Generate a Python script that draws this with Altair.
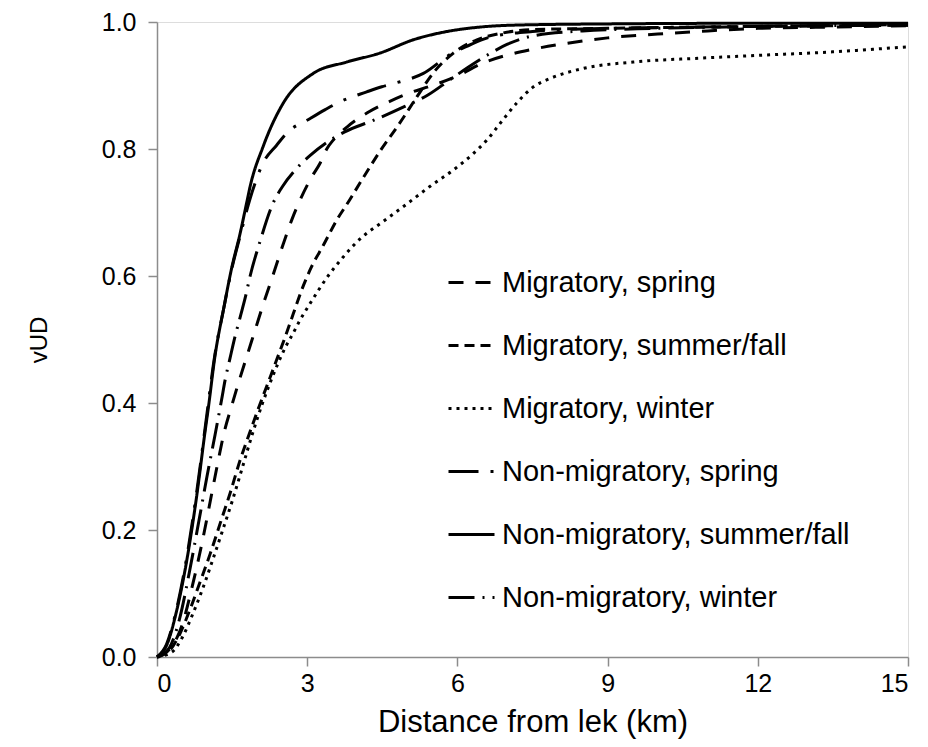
import altair as alt
import pandas as pd

# ---- data (distance km, vUD) ----
series_names = [
    "Migratory, spring",
    "Migratory, summer/fall",
    "Migratory, winter",
    "Non-migratory, spring",
    "Non-migratory, summer/fall",
    "Non-migratory, winter",
]

mig_spring_d = [0, 0.25, 0.5, 0.7, 0.9, 1.1, 1.25, 1.33, 1.49, 1.66, 1.82, 1.96, 2.12, 2.32, 2.52, 2.69, 2.86,
                3.09, 3.26, 3.39, 3.52, 3.8, 4.2, 4.65, 5.0, 5.5, 6.0, 6.5, 7.0, 7.5, 8.15, 9, 10, 11, 12, 13.5, 15]
mig_spring_v = [0, 0.012, 0.05, 0.11, 0.18, 0.26, 0.32, 0.35, 0.395, 0.44, 0.48, 0.515, 0.555, 0.602, 0.65, 0.688, 0.72,
                0.756, 0.778, 0.80, 0.814, 0.835, 0.857, 0.875, 0.887, 0.90, 0.915, 0.935, 0.948, 0.957, 0.966, 0.975,
                0.981, 0.986, 0.99, 0.992, 0.994]

mig_summer_d = [0, 0.26, 0.46, 0.66, 0.86, 1.06, 1.26, 1.46, 1.66, 1.86, 2.0, 2.19, 2.39, 2.56, 2.72, 2.89, 3.09,
                3.32, 3.59, 3.85, 4.05, 4.45, 4.85, 5.19, 5.52, 5.92, 6.39, 6.86, 7.5, 9, 12, 15]
mig_summer_v = [0, 0.011, 0.037, 0.075, 0.118, 0.162, 0.21, 0.258, 0.31, 0.355, 0.386, 0.426, 0.468, 0.504, 0.54,
                0.578, 0.615, 0.648, 0.688, 0.72, 0.746, 0.796, 0.841, 0.882, 0.92, 0.951, 0.972, 0.982, 0.988,
                0.99, 0.993, 0.995]

mig_winter_d = [0, 0.3, 0.5, 0.7, 0.9, 1.1, 1.3, 1.5, 1.7, 1.9, 2.1, 2.3, 2.56, 2.72, 2.86, 3.06, 3.39, 3.72, 4.05,
                4.52, 5.0, 5.45, 5.92, 6.32, 6.6, 6.85, 7.18, 7.52, 7.85, 8.52, 9.51, 10.84, 12.17, 13.5, 15]
mig_winter_v = [0, 0.008, 0.03, 0.065, 0.105, 0.15, 0.197, 0.245, 0.297, 0.35, 0.398, 0.44, 0.487, 0.51, 0.531,
                0.557, 0.597, 0.63, 0.658, 0.686, 0.714, 0.741, 0.767, 0.793, 0.815, 0.84, 0.872, 0.898, 0.911,
                0.927, 0.937, 0.943, 0.948, 0.953, 0.961]

nm_spring_d = [0, 0.19, 0.39, 0.59, 0.79, 0.96, 1.16, 1.33, 1.49, 1.66, 1.86, 2.12, 2.39, 2.59, 3.06, 3.36, 3.59,
               4.19, 4.49, 4.72, 5.32, 5.88, 6.2, 6.6, 7.5, 9, 12, 15]
nm_spring_v = [0, 0.02, 0.075, 0.155, 0.258, 0.36, 0.478, 0.548, 0.61, 0.663, 0.722, 0.778, 0.806, 0.825, 0.848,
               0.862, 0.872, 0.89, 0.898, 0.903, 0.919, 0.95, 0.962, 0.975, 0.985, 0.99, 0.993, 0.996]

nm_summer_d = [0, 0.19, 0.39, 0.59, 0.79, 0.96, 1.03, 1.16, 1.33, 1.49, 1.66, 1.79, 1.86, 2.12, 2.52, 3.12, 3.79,
               4.45, 5.12, 5.79, 6.45, 7.1, 9, 12, 15]
nm_summer_v = [0, 0.018, 0.072, 0.15, 0.252, 0.355, 0.395, 0.475, 0.548, 0.612, 0.667, 0.715, 0.741, 0.804, 0.872,
               0.919, 0.937, 0.951, 0.972, 0.985, 0.992, 0.995, 0.997, 0.998, 0.998]

nm_winter_d = [0, 0.25, 0.45, 0.65, 0.85, 1.0, 1.16, 1.29, 1.36, 1.46, 1.56, 1.66, 1.76, 1.86, 2.06, 2.32, 2.49,
               2.82, 3.06, 3.52, 3.75, 4.35, 4.95, 5.41, 5.85, 6.2, 6.6, 7.0, 7.5, 8.5, 10, 12, 15]
nm_winter_v = [0, 0.015, 0.06, 0.135, 0.22, 0.285, 0.35, 0.405, 0.436, 0.471, 0.505, 0.535, 0.565, 0.6, 0.655,
               0.715, 0.739, 0.772, 0.79, 0.817, 0.827, 0.846, 0.867, 0.885, 0.909, 0.928, 0.948, 0.965, 0.978,
               0.986, 0.99, 0.993, 0.995]

x_ticks = [0, 3, 6, 9, 12, 15]
y_ticks = [0.0, 0.2, 0.4, 0.6, 0.8, 1.0]

# ---- styles ----
dash_patterns = [[15, 12], [10, 6], [3, 5], [30, 12, 3, 12], [1, 0], [26, 8, 2, 8]]

series_data = [
    (mig_spring_d, mig_spring_v),
    (mig_summer_d, mig_summer_v),
    (mig_winter_d, mig_winter_v),
    (nm_spring_d, nm_spring_v),
    (nm_summer_d, nm_summer_v),
    (nm_winter_d, nm_winter_v),
]

rows = []
for name, (ds, vs) in zip(series_names, series_data):
    for d, v in zip(ds, vs):
        rows.append({"series": name, "distance": d, "vud": v})
df = pd.DataFrame(rows)

label_font = "Liberation Sans"

chart = alt.Chart(df).mark_line(
    color="black", strokeWidth=3, interpolate="monotone"
).encode(
    x=alt.X(
        "distance:Q",
        scale=alt.Scale(domain=[0, 15], nice=False, zero=True),
        axis=alt.Axis(
            values=x_ticks, format="d", title="Distance from lek (km)", grid=False,
            domainColor="#8c8c8c", tickColor="#8c8c8c", tickSize=9, domainWidth=1.5, tickWidth=1.5,
            labelFont=label_font, labelFontSize=25, labelColor="black", labelPadding=5,
            titleFont=label_font, titleFontSize=31, titleFontWeight="normal", titleColor="black",
            titlePadding=11,
        ),
    ),
    y=alt.Y(
        "vud:Q",
        scale=alt.Scale(domain=[0, 1], nice=False),
        axis=alt.Axis(
            values=y_ticks, format=".1f", title="vUD", grid=False,
            domainColor="#8c8c8c", tickColor="#8c8c8c", tickSize=9, domainWidth=1.5, tickWidth=1.5,
            labelFont=label_font, labelFontSize=25, labelColor="black", labelPadding=12,
            titleFont=label_font, titleFontSize=24, titleFontWeight="normal", titleColor="black",
            titlePadding=50,
        ),
    ),
    strokeDash=alt.StrokeDash(
        "series:N",
        scale=alt.Scale(domain=series_names, range=dash_patterns),
        sort=series_names,
        legend=alt.Legend(
            orient="none", legendX=290, legendY=236, title=None,
            symbolType="stroke", symbolSize=2116, symbolStrokeWidth=3, symbolStrokeColor="black",
            labelFont=label_font, labelFontSize=29, labelColor="black", labelOffset=6,
            rowPadding=23, padding=0, labelLimit=500,
        ),
    ),
    detail="series:N",
).properties(
    width=751, height=635,
    autosize=alt.AutoSizeParams(type="none"),
    padding={"left": 149, "top": 14, "right": 12, "bottom": 82},
).configure_view(stroke=None).configure(background="white")

chart.save("out.html", embed_options={"renderer": "svg", "actions": False})
